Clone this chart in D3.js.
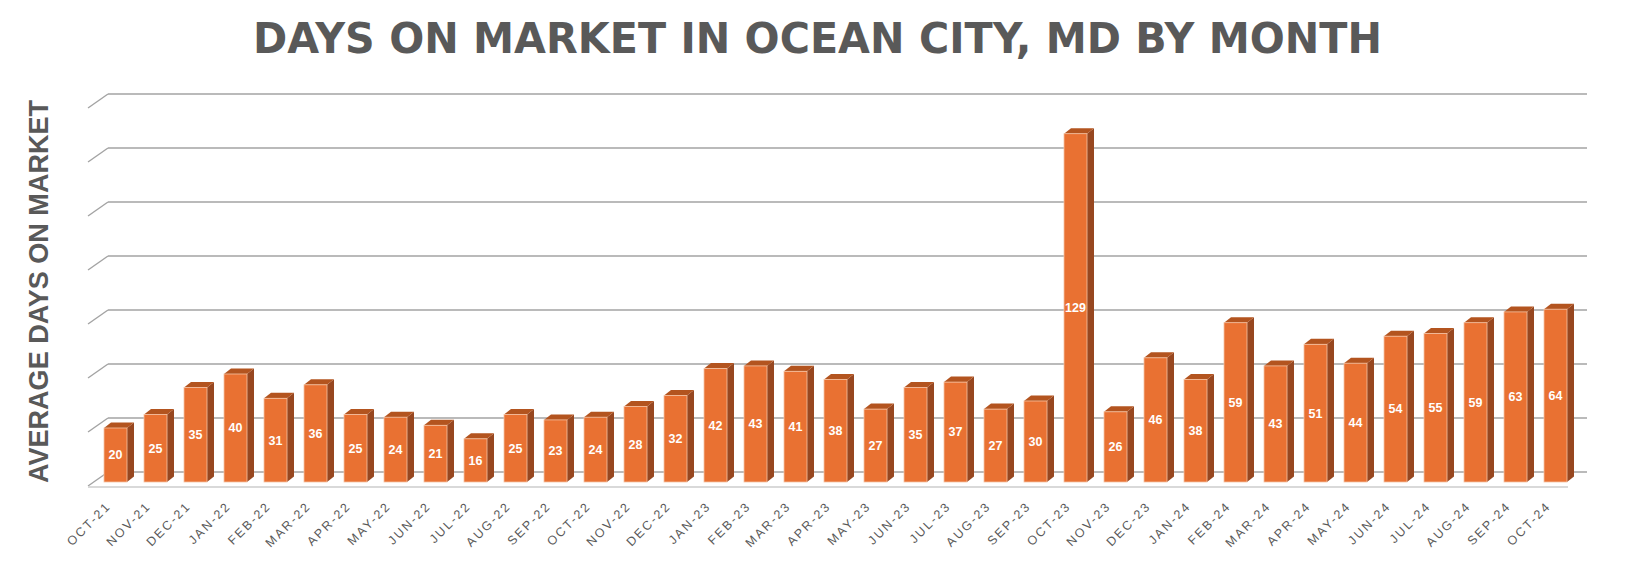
<!DOCTYPE html>
<html>
<head>
<meta charset="utf-8">
<script src="https://cdn.jsdelivr.net/npm/d3@7"></script>
<style>
  body { margin: 0; background: #fff; }
  svg { display: block; }
</style>
</head>
<body>
<svg id="chart" width="1633" height="562"></svg>
<script>
// data
var months = ["OCT-21","NOV-21","DEC-21","JAN-22","FEB-22","MAR-22","APR-22","MAY-22","JUN-22","JUL-22",
  "AUG-22","SEP-22","OCT-22","NOV-22","DEC-22","JAN-23","FEB-23","MAR-23","APR-23","MAY-23","JUN-23",
  "JUL-23","AUG-23","SEP-23","OCT-23","NOV-23","DEC-23","JAN-24","FEB-24","MAR-24","APR-24","MAY-24",
  "JUN-24","JUL-24","AUG-24","SEP-24","OCT-24"];
var days = [20,25,35,40,31,36,25,24,21,16,25,23,24,28,32,42,43,41,38,27,35,37,27,30,129,26,46,38,59,43,51,44,54,55,59,63,64];
var yTicks = [0,20,40,60,80,100,120,140];

var svg = d3.select("#chart");

// depth offsets for the fake 3d
var wallDx = 20, wallDy = 14;   // floor front -> back wall
var barDx = 7, barDy = 5.5;     // bar depth
var baseY = 482;                // bar zero line
var wallBase = 472;             // back wall zero line

var x = d3.scaleBand()
    .domain(months)
    .range([95.5, 95.5 + 37 * 40])
    .paddingInner(0.425)
    .paddingOuter(0.2125);

var y = d3.scaleLinear().domain([0, 140]).range([baseY, baseY - 378]);
var yWall = d3.scaleLinear().domain([0, 140]).range([wallBase, wallBase - 378]);

// back wall grid lines + side wall diagonals
var grid = svg.append("g");
grid.selectAll("line.h")
    .data(yTicks)
    .enter().append("line")
    .attr("x1", 88 + wallDx).attr("x2", 1587)
    .attr("y1", function(d){ return yWall(d); })
    .attr("y2", function(d){ return yWall(d); })
    .attr("stroke", "#a3a3a3").attr("stroke-width", 1.6);
grid.selectAll("line.d")
    .data(yTicks)
    .enter().append("line")
    .attr("x1", 88).attr("x2", 88 + wallDx)
    .attr("y1", function(d){ return yWall(d) + wallDy; })
    .attr("y2", function(d){ return yWall(d); })
    .attr("stroke", "#a3a3a3").attr("stroke-width", 1.4);

// floor front edge
svg.append("line")
    .attr("x1", 88).attr("x2", 1568)
    .attr("y1", wallBase + wallDy + 1).attr("y2", wallBase + wallDy + 1)
    .attr("stroke", "#d9d9d9").attr("stroke-width", 2);

var w = x.bandwidth();
var bars = svg.append("g").selectAll("g")
    .data(days)
    .enter().append("g");

// side face
bars.append("path")
    .attr("d", function(d, i){
      var x0 = x(months[i]) + w, yt = y(d);
      return "M" + x0 + "," + yt + "L" + (x0 + barDx) + "," + (yt - barDy) +
        "L" + (x0 + barDx) + "," + (baseY - barDy) + "L" + x0 + "," + baseY + "Z";
    })
    .attr("fill", "#974720");

// top face
bars.append("path")
    .attr("d", function(d, i){
      var x0 = x(months[i]), yt = y(d);
      return "M" + x0 + "," + yt + "L" + (x0 + w) + "," + yt +
        "L" + (x0 + w + barDx) + "," + (yt - barDy) + "L" + (x0 + barDx) + "," + (yt - barDy) + "Z";
    })
    .attr("fill", "#b3541f");

// front face
bars.append("rect")
    .attr("x", function(d, i){ return x(months[i]); })
    .attr("y", function(d){ return y(d); })
    .attr("width", w)
    .attr("height", function(d){ return baseY - y(d); })
    .attr("fill", "#e97132")
    .attr("stroke", "#f5c3a3")
    .attr("stroke-width", 0.8);

// value labels
bars.append("text")
    .attr("x", function(d, i){ return x(months[i]) + w / 2; })
    .attr("y", function(d){ return (y(d) + baseY) / 2; })
    .attr("dy", "0.35em")
    .attr("text-anchor", "middle")
    .attr("font-family", "Liberation Sans, Arial, sans-serif")
    .attr("font-weight", "bold")
    .attr("font-size", "12.5px")
    .attr("fill", "#fff")
    .text(function(d){ return d; });

// month labels
svg.append("g").selectAll("text")
    .data(months)
    .enter().append("text")
    .attr("transform", function(d){
      return "translate(" + (x(d) + w / 2 - 4) + ",507) rotate(-45)";
    })
    .attr("text-anchor", "end")
    .attr("font-family", "Liberation Sans, Arial, sans-serif")
    .attr("font-size", "12.5px")
    .attr("letter-spacing", "2px")
    .attr("fill", "#595959")
    .text(function(d){ return d; });

// title
svg.append("text")
    .attr("x", 253).attr("y", 53)
    .attr("textLength", 1129)
    .attr("lengthAdjust", "spacingAndGlyphs")
    .attr("font-family", "DejaVu Sans, sans-serif")
    .attr("font-weight", "bold")
    .attr("font-size", "42px")
    .attr("fill", "#595959")
    .text("DAYS ON MARKET IN OCEAN CITY, MD BY MONTH");

// y axis title
svg.append("text")
    .attr("transform", "translate(48,483) rotate(-90)")
    .attr("textLength", 383)
    .attr("lengthAdjust", "spacingAndGlyphs")
    .attr("font-family", "Liberation Sans, Arial, sans-serif")
    .attr("font-weight", "bold")
    .attr("font-size", "27px")
    .attr("fill", "#595959")
    .text("AVERAGE DAYS ON MARKET");
</script>
</body>
</html>
